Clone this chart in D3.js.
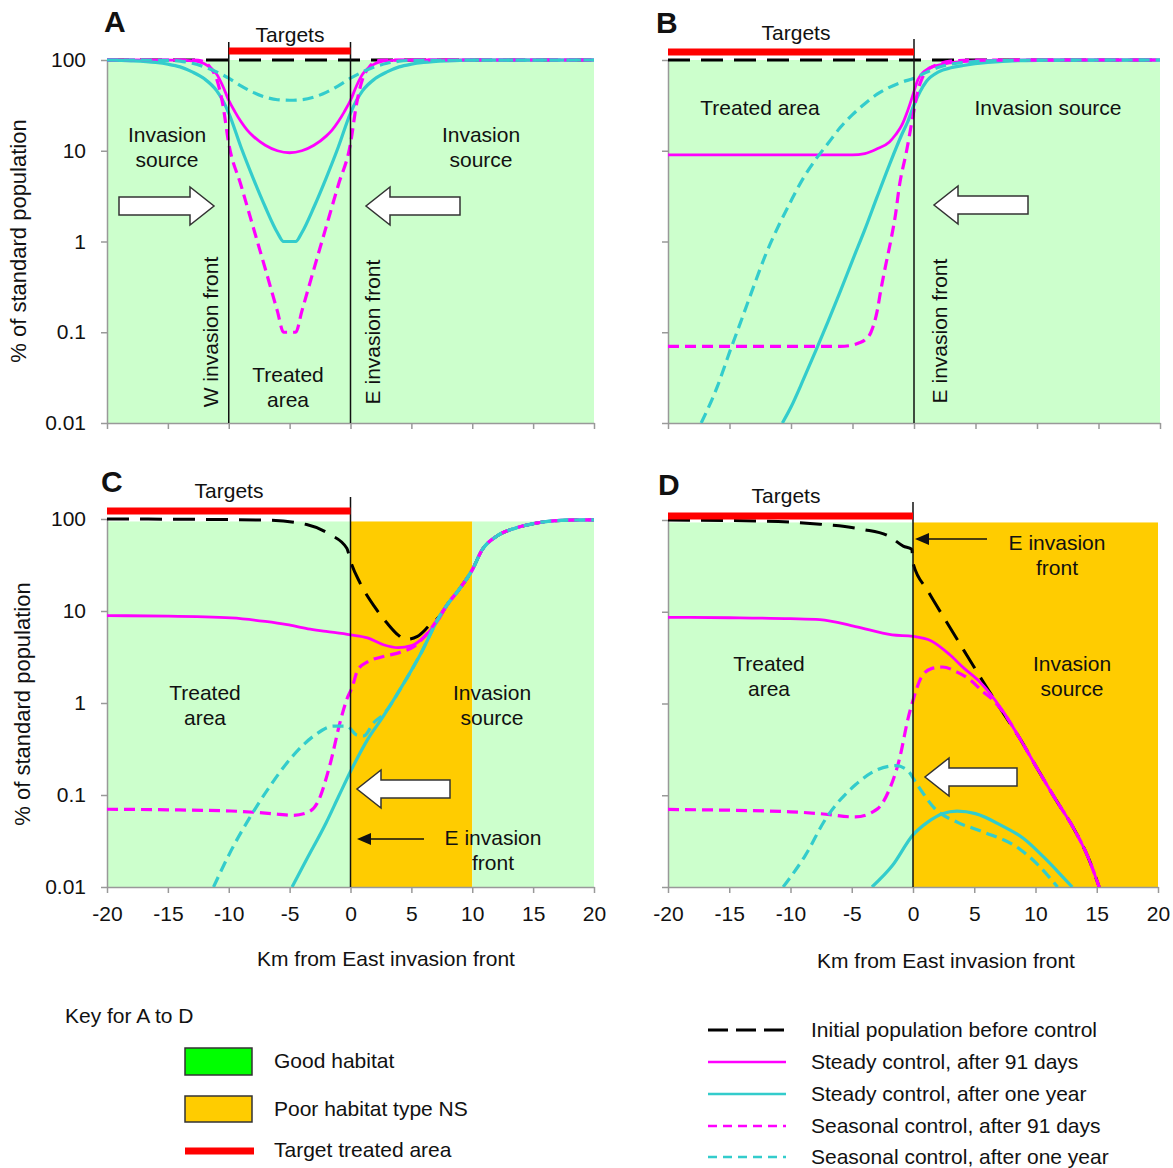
<!DOCTYPE html>
<html><head><meta charset="utf-8">
<script src="https://cdn.jsdelivr.net/npm/d3@7"></script>
<style>
body{margin:0;background:#fff}
svg{display:block}
text{font-family:"Liberation Sans",Arial,sans-serif;fill:#111}
</style>
</head><body>
<svg id="c" width="1173" height="1168"></svg>
<script>
// ---------------- DATA ----------------
const xTicks = [-20,-15,-10,-5,0,5,10,15,20];
const yTicks = [100,10,1,0.1,0.01];
const yTickLabels = ["100","10","1","0.1","0.01"];

// Panel A  [km, % of standard population]
const A_initial   = [[-20,100],[20,100]];
const A_steady91  = [[-20,100],[-14,99.5],[-13,98],[-12.5,96],[-12,91],[-11.5,82],[-11,70],[-10.5,52],[-10,36],[-9.5,27],[-9,21],[-8.5,17],[-8,14.5],[-7,11.5],[-6,10],[-5,9.5],[-4,10],[-3,11.5],[-2,14.5],[-1.5,17],[-1,21],[-0.5,27],[0,36],[0.5,52],[1,70],[1.5,82],[2,91],[2.5,96],[3,98],[4,99.5],[6,100],[20,100]];
const A_steady1y  = [[-20,99.5],[-18,98],[-16,94],[-15,90],[-14,84],[-13,74],[-12,62],[-11,46],[-10.5,36],[-10,26],[-9,11],[-8,5],[-7,2.4],[-6,1.25],[-5.5,1],[-4.5,1],[-4,1.25],[-3,2.4],[-2,5],[-1,11],[0,26],[0.5,36],[1,46],[2,62],[3,74],[4,84],[5,90],[6,94],[8,98],[10,99.5],[20,100]];
const A_seasonal91= [[-20,100],[-13,100],[-12.5,99],[-12,95],[-11.5,82],[-11,62],[-10.5,33],[-10,12],[-9,4.2],[-8,1.45],[-7,0.5],[-6,0.17],[-5.5,0.1],[-4.5,0.1],[-4,0.17],[-3,0.5],[-2,1.45],[-1,4.2],[0,12],[0.5,33],[1,62],[1.5,82],[2,95],[2.5,99],[3,100],[20,100]];
const A_seasonal1y= [[-20,100],[-15,99],[-14,97],[-13,92],[-12,84],[-11,74],[-10,63],[-9,52],[-8,44],[-7,39],[-6,36.5],[-5,36],[-4,36.5],[-3,39],[-2,44],[-1,52],[0,63],[1,74],[2,84],[3,92],[4,97],[5,99],[20,100]];

// Panel B
const B_initial   = [[-20,100],[20,100]];
const B_steady91  = [[-20,9],[-5,9],[-4,9.3],[-3,10.5],[-2,12.5],[-1.5,15],[-1,19],[-0.5,28],[0,45],[0.3,60],[0.7,72],[1.2,81],[2,88],[2.7,92],[4,96],[6,99],[10,100],[20,100]];
const B_steady1y  = [[-10.7,0.01],[-10,0.015],[-9,0.03],[-8,0.062],[-7,0.13],[-6,0.28],[-5,0.62],[-4,1.35],[-3,3.1],[-2,7],[-1,15],[-0.5,21],[0,32],[0.5,45],[1,58],[2,74],[3,82],[4,87],[6,94],[10,99.3],[20,100]];
const B_seasonal91= [[-20,0.07],[-6,0.07],[-5,0.072],[-4.5,0.076],[-4,0.082],[-3.5,0.1],[-3,0.17],[-2.7,0.29],[-2.3,0.55],[-1.9,1],[-1.5,2],[-1.2,4],[-0.6,10],[0,28],[0.3,45],[0.6,60],[1,75],[1.8,88],[3,97],[5,99.8],[20,100]];
const B_seasonal1y= [[-17.3,0.01],[-16,0.025],[-15,0.06],[-14,0.14],[-13,0.33],[-12,0.75],[-11,1.5],[-10,2.8],[-9,5],[-8,8],[-7,12],[-6,18],[-5,25],[-4,33],[-3,42],[-2,50],[-1,57],[0,63],[1,73],[2,83],[3,90],[5,96],[8,99],[12,100],[20,100]];

// Panel C
const C_initial   = [[-20,100],[-12,99],[-6.7,97],[-3.6,87],[-1.7,68],[-0.3,48],[0,35],[0.8,20],[2,11],[3,7.4],[3.9,5.5],[4.5,4.9],[5.5,5.3],[6.5,7],[7.3,8.7],[8,12],[8.9,17],[10,28],[10.8,46],[12,65],[13.6,80],[15.2,90],[17.7,97],[20,98]];
const C_steady91  = [[-20,8.9],[-15,8.8],[-9.8,8.4],[-7,7.7],[-5.2,7.1],[-3.5,6.4],[-2,6],[0,5.5],[1.4,5.1],[2.7,4.3],[3.9,4],[5,4.2],[6.1,5.3],[7.3,8.3],[8,12],[8.9,17],[10,28],[10.8,46],[12,65],[13.6,80],[15.2,90],[17.7,97],[20,98]];
const C_steady1y  = [[-4.8,0.01],[-3.6,0.02],[-2,0.05],[-1,0.095],[0,0.18],[1.4,0.4],[2.7,0.72],[4.2,1.5],[5.8,3.5],[7.3,8.7],[8,12],[8.9,17],[10,28],[10.8,46],[12,65],[13.6,80],[15.2,90],[17.7,97],[20,98]];
const C_seasonal91= [[-20,0.07],[-15,0.069],[-9.8,0.067],[-6,0.062],[-4.8,0.06],[-3.6,0.064],[-2.7,0.083],[-1.7,0.21],[-0.8,0.66],[-0.3,1.1],[0.15,1.5],[0.6,2.3],[1.4,2.8],[2.7,3.2],[4.2,3.6],[5.2,4.1],[6.2,5.5],[7.3,8.7],[8,12],[8.9,17],[10,28],[10.8,46],[12,65],[13.6,80],[15.2,90],[17.7,97],[20,98]];
const C_seasonal1y= [[-11.25,0.01],[-9.8,0.025],[-8.3,0.056],[-6.7,0.12],[-4.8,0.26],[-3,0.44],[-1.4,0.56],[-0.3,0.56],[0.5,0.45],[1.1,0.44],[1.9,0.61],[2.7,0.75],[4.2,1.5],[5.8,3.5],[7.3,8.7],[8,12],[8.9,17],[10,28],[10.8,46],[12,65],[13.6,80],[15.2,90],[17.7,97],[20,98]];

// Panel D
const D_initial   = [[-20,100],[-12,97],[-7.6,90],[-4.1,79],[-2,67],[-0.8,52],[-0.1,48],[0,34],[1.2,17],[2.7,7.9],[4.2,3.7],[5.7,1.75],[7.2,0.85],[8.7,0.42],[10.1,0.2],[11.6,0.092],[13.1,0.044],[14.3,0.021],[15.2,0.01]];
const D_steady91  = [[-20,8.7],[-15,8.6],[-10,8.4],[-7.6,8.2],[-4.7,6.9],[-1.7,5.6],[0,5.4],[1.5,4.8],[3,3.4],[4.2,2.4],[5.4,1.75],[7.2,0.88],[8.7,0.42],[10.1,0.2],[11.6,0.092],[13.1,0.044],[14.3,0.021],[15.2,0.01]];
const D_steady1y  = [[-3.35,0.01],[-1.7,0.017],[0,0.037],[1.2,0.051],[2.4,0.063],[3.6,0.067],[5.1,0.063],[7.2,0.047],[9,0.034],[10.7,0.021],[12.2,0.013],[13,0.01]];
const D_seasonal91= [[-20,0.07],[-10,0.066],[-7.6,0.063],[-4.7,0.058],[-2.9,0.071],[-2,0.11],[-1.1,0.25],[-0.4,0.69],[0.06,1.15],[0.65,1.9],[1.5,2.4],[2.4,2.5],[3.6,2.2],[4.8,1.75],[5.7,1.35],[6.5,1.1],[7.2,0.86],[8.7,0.42],[10.1,0.2],[11.6,0.092],[13.1,0.044],[14.3,0.021],[15.2,0.01]];
const D_seasonal1y= [[-10.6,0.01],[-8.8,0.022],[-7.1,0.056],[-4.7,0.13],[-2.9,0.19],[-1.4,0.21],[-0.5,0.19],[0.35,0.13],[1.8,0.071],[3.6,0.051],[5.7,0.04],[8.7,0.026],[10.1,0.018],[11.8,0.01]];

// habitat segments [from km, to km, type]
const habitatA = [[-20,20,"good"]];
const habitatB = [[-20,20,"good"]];
const habitatC = [[-20,0,"good"],[0,10,"poor"],[10,20,"good"]];
const habitatD = [[-20,0,"good"],[0,20,"poor"]];
// target treated areas [from km, to km]
const targetsA = [-10,0];
const targetsB = [-20,0];
const targetsC = [-20,0];
const targetsD = [-20,0];
// invasion fronts (km)
const frontsA = [-10,0];
const frontsB = [0];
const frontsC = [0];
const frontsD = [0];

const seriesNames = ["initial","steady91","steady1y","seasonal91","seasonal1y"];
const legendLabels = ["Initial population before control","Steady control, after 91 days","Steady control, after one year","Seasonal control, after 91 days","Seasonal control, after one year"];

// ---------------- STYLES ----------------
const MAG = "#ff00ff", CYA = "#33cccc";
const styles = {
  initial:   {color:"#000", width:3, dash:"22,11"},
  steady91:  {color:MAG, width:2.8, dash:null},
  steady1y:  {color:CYA, width:3.2, dash:null},
  seasonal91:{color:MAG, width:3.2, dash:"11,6"},
  seasonal1y:{color:CYA, width:3.2, dash:"11,6"}
};
const FILL = {good:"#ccffcc", poor:"#ffcc00"};

const svg = d3.select("#c");
const FONT = 21;

const panels = [
  {id:"A", x0:107, x1:594, yTop:60, yBot:423, xLab:false, yLab:true, fillTop:100, habitat:habitatA, targets:targetsA, fronts:frontsA, frontTop:42, targetY:51,
   data:{initial:A_initial, steady91:A_steady91, steady1y:A_steady1y, seasonal91:A_seasonal91, seasonal1y:A_seasonal1y}},
  {id:"B", x0:668, x1:1160, yTop:60, yBot:423, xLab:false, yLab:false, fillTop:100, habitat:habitatB, targets:targetsB, fronts:frontsB, frontTop:39, targetY:52,
   data:{initial:B_initial, steady91:B_steady91, steady1y:B_steady1y, seasonal91:B_seasonal91, seasonal1y:B_seasonal1y}},
  {id:"C", x0:107, x1:594, yTop:519, yBot:887, xLab:true, yLab:true, fillTop:94, habitat:habitatC, targets:targetsC, fronts:frontsC, frontTop:497, targetY:511,
   data:{initial:C_initial, steady91:C_steady91, steady1y:C_steady1y, seasonal91:C_seasonal91, seasonal1y:C_seasonal1y}},
  {id:"D", x0:668, x1:1158, yTop:520, yBot:887, xLab:true, yLab:false, fillTop:94, habitat:habitatD, targets:targetsD, fronts:frontsD, frontTop:502, targetY:516,
   data:{initial:D_initial, steady91:D_steady91, steady1y:D_steady1y, seasonal91:D_seasonal91, seasonal1y:D_seasonal1y}}
];

panels.forEach(p => {
  const x = d3.scaleLinear().domain([-20,20]).range([p.x0,p.x1]);
  const y = d3.scaleLog().domain([0.01,100]).range([p.yBot,p.yTop]);
  p.x = x; p.y = y;
  const g = svg.append("g");
  // habitat fills
  g.selectAll("rect.hab").data(p.habitat).join("rect")
    .attr("x", d=>x(d[0])).attr("width", d=>x(d[1])-x(d[0]))
    .attr("y", y(p.fillTop)).attr("height", y(0.01)-y(p.fillTop))
    .attr("fill", d=>FILL[d[2]]);
  // axes
  const xa = d3.axisBottom(x).tickValues(xTicks).tickSize(6).tickSizeOuter(0).tickPadding(13)
    .tickFormat(p.xLab ? (d=>String(d)) : (()=>""));
  const gx = g.append("g").attr("transform",`translate(0,${p.yBot})`).call(xa);
  const ya = d3.axisLeft(y).tickValues(yTicks).tickSize(6).tickSizeOuter(0).tickPadding(15)
    .tickFormat(p.yLab ? ((d,i)=>yTickLabels[i]) : (()=>""));
  const gy = g.append("g").attr("transform",`translate(${p.x0},0)`).call(ya);
  [gx,gy].forEach(a=>{
    a.select(".domain").attr("stroke","#999").attr("stroke-width",1.5);
    a.selectAll(".tick line").attr("stroke","#999").attr("stroke-width",1.5);
    a.selectAll("text").attr("font-size",FONT).attr("font-family","Liberation Sans, Arial, sans-serif").attr("fill","#111");
  });
  // clip
  const cid = "clip"+p.id;
  svg.append("clipPath").attr("id",cid).append("rect")
    .attr("x",p.x0).attr("y",p.yTop-4).attr("width",p.x1-p.x0).attr("height",p.yBot-p.yTop+4);
  const lg = g.append("g").attr("clip-path",`url(#${cid})`);
  const line = d3.line().x(d=>x(d[0])).y(d=>y(d[1])).curve(d3.curveMonotoneX);
  seriesNames.forEach(s=>{
    const st = styles[s];
    lg.append("path").datum(p.data[s]).attr("d",line)
      .attr("fill","none").attr("stroke",st.color).attr("stroke-width",st.width)
      .attr("stroke-dasharray",st.dash).attr("stroke-linejoin","round");
  });
  // fronts
  g.selectAll("line.front").data(p.fronts).join("line")
    .attr("x1",d=>x(d)).attr("x2",d=>x(d)).attr("y1",p.frontTop).attr("y2",p.yBot)
    .attr("stroke","#111").attr("stroke-width",1.5);
  // target bar
  g.append("line").attr("x1",x(p.targets[0])).attr("x2",x(p.targets[1]))
    .attr("y1",p.targetY).attr("y2",p.targetY).attr("stroke","#ff0000").attr("stroke-width",7);
});

// ---------------- TEXT & ANNOTATIONS ----------------
function txt(x,y,s,opt={}){
  const t = svg.append("text").attr("x",x).attr("y",y).text(s)
    .attr("font-size",opt.size||FONT).attr("text-anchor",opt.anchor||"middle");
  if(opt.bold) t.attr("font-weight","bold");
  if(opt.rot) t.attr("transform",`rotate(-90,${x},${y})`);
  return t;
}
// panel letters
txt(104,32,"A",{size:30,bold:true,anchor:"start"});
txt(656,33,"B",{size:30,bold:true,anchor:"start"});
txt(101,492,"C",{size:30,bold:true,anchor:"start"});
txt(658,495,"D",{size:30,bold:true,anchor:"start"});
// Targets
txt(290,42,"Targets"); txt(796,40,"Targets"); txt(229,498,"Targets"); txt(786,503,"Targets");
// y titles
txt(26,241,"% of standard population",{size:22,rot:true});
txt(30,704,"% of standard population",{size:22,rot:true});
// x titles
txt(386,966,"Km from East invasion front",{size:21});
txt(946,968,"Km from East invasion front",{size:21});

// Panel A annotations
txt(167,142,"Invasion"); txt(167,167,"source");
txt(481,142,"Invasion"); txt(481,167,"source");
txt(288,382,"Treated"); txt(288,407,"area");
txt(218,332,"W invasion front",{rot:true});
txt(380,332,"E invasion front",{rot:true});
// Panel B
txt(760,115,"Treated area"); txt(1048,115,"Invasion source");
txt(947,331,"E invasion front",{rot:true});
// Panel C
txt(205,700,"Treated"); txt(205,725,"area");
txt(492,700,"Invasion"); txt(492,725,"source");
txt(493,845,"E invasion"); txt(493,870,"front");
// Panel D
txt(769,671,"Treated"); txt(769,696,"area");
txt(1072,671,"Invasion"); txt(1072,696,"source");
txt(1057,550,"E invasion"); txt(1057,575,"front");

// block arrows
function blockArrow(tail, tip, cy){
  const s = Math.sign(tip-tail), hx = tip - s*24;
  const pts = [[tail,cy-9],[hx,cy-9],[hx,cy-19],[tip,cy],[hx,cy+19],[hx,cy+9],[tail,cy+9]];
  svg.append("path").attr("d", d3.line()(pts)+"Z")
    .attr("fill","#fff").attr("stroke","#333").attr("stroke-width",1.5);
}
blockArrow(119,214,206);
blockArrow(460,366,206);
blockArrow(1028,934,205);
blockArrow(450,357,789);
blockArrow(1017,925,777);
// thin arrows
function thinArrow(tail, tip, cy){
  svg.append("line").attr("x1",tail).attr("x2",tip+12).attr("y1",cy).attr("y2",cy)
    .attr("stroke","#111").attr("stroke-width",1.5);
  svg.append("path").attr("d",d3.line()([[tip,cy],[tip+14,cy-6],[tip+14,cy+6]])+"Z").attr("fill","#111");
}
thinArrow(424,357,839);
thinArrow(987,915,539);

// ---------------- LEGEND ----------------
txt(65,1023,"Key for A to D",{anchor:"start"});
svg.append("rect").attr("x",185).attr("y",1048).attr("width",67).attr("height",27)
  .attr("fill","#00ff00").attr("stroke","#333").attr("stroke-width",1.5);
txt(274,1068,"Good habitat",{anchor:"start"});
svg.append("rect").attr("x",185).attr("y",1096).attr("width",67).attr("height",26)
  .attr("fill",FILL.poor).attr("stroke","#333").attr("stroke-width",1.5);
txt(274,1116,"Poor habitat type NS",{anchor:"start"});
svg.append("line").attr("x1",185).attr("x2",254).attr("y1",1151).attr("y2",1151)
  .attr("stroke","#ff0000").attr("stroke-width",7);
txt(274,1157,"Target treated area",{anchor:"start"});

const legY = [1030,1062,1094,1126,1157];
const legDash = {initial:"20,8", steady91:null, steady1y:null, seasonal91:"9,6", seasonal1y:"9,6"};
seriesNames.forEach((s,i)=>{
  svg.append("line").attr("x1",708).attr("x2",786).attr("y1",legY[i]).attr("y2",legY[i])
    .attr("stroke",styles[s].color).attr("stroke-width",s==="initial"?3:2.5)
    .attr("stroke-dasharray",legDash[s]);
  txt(811,legY[i]+7,legendLabels[i],{anchor:"start"});
});
</script>
</body></html>
